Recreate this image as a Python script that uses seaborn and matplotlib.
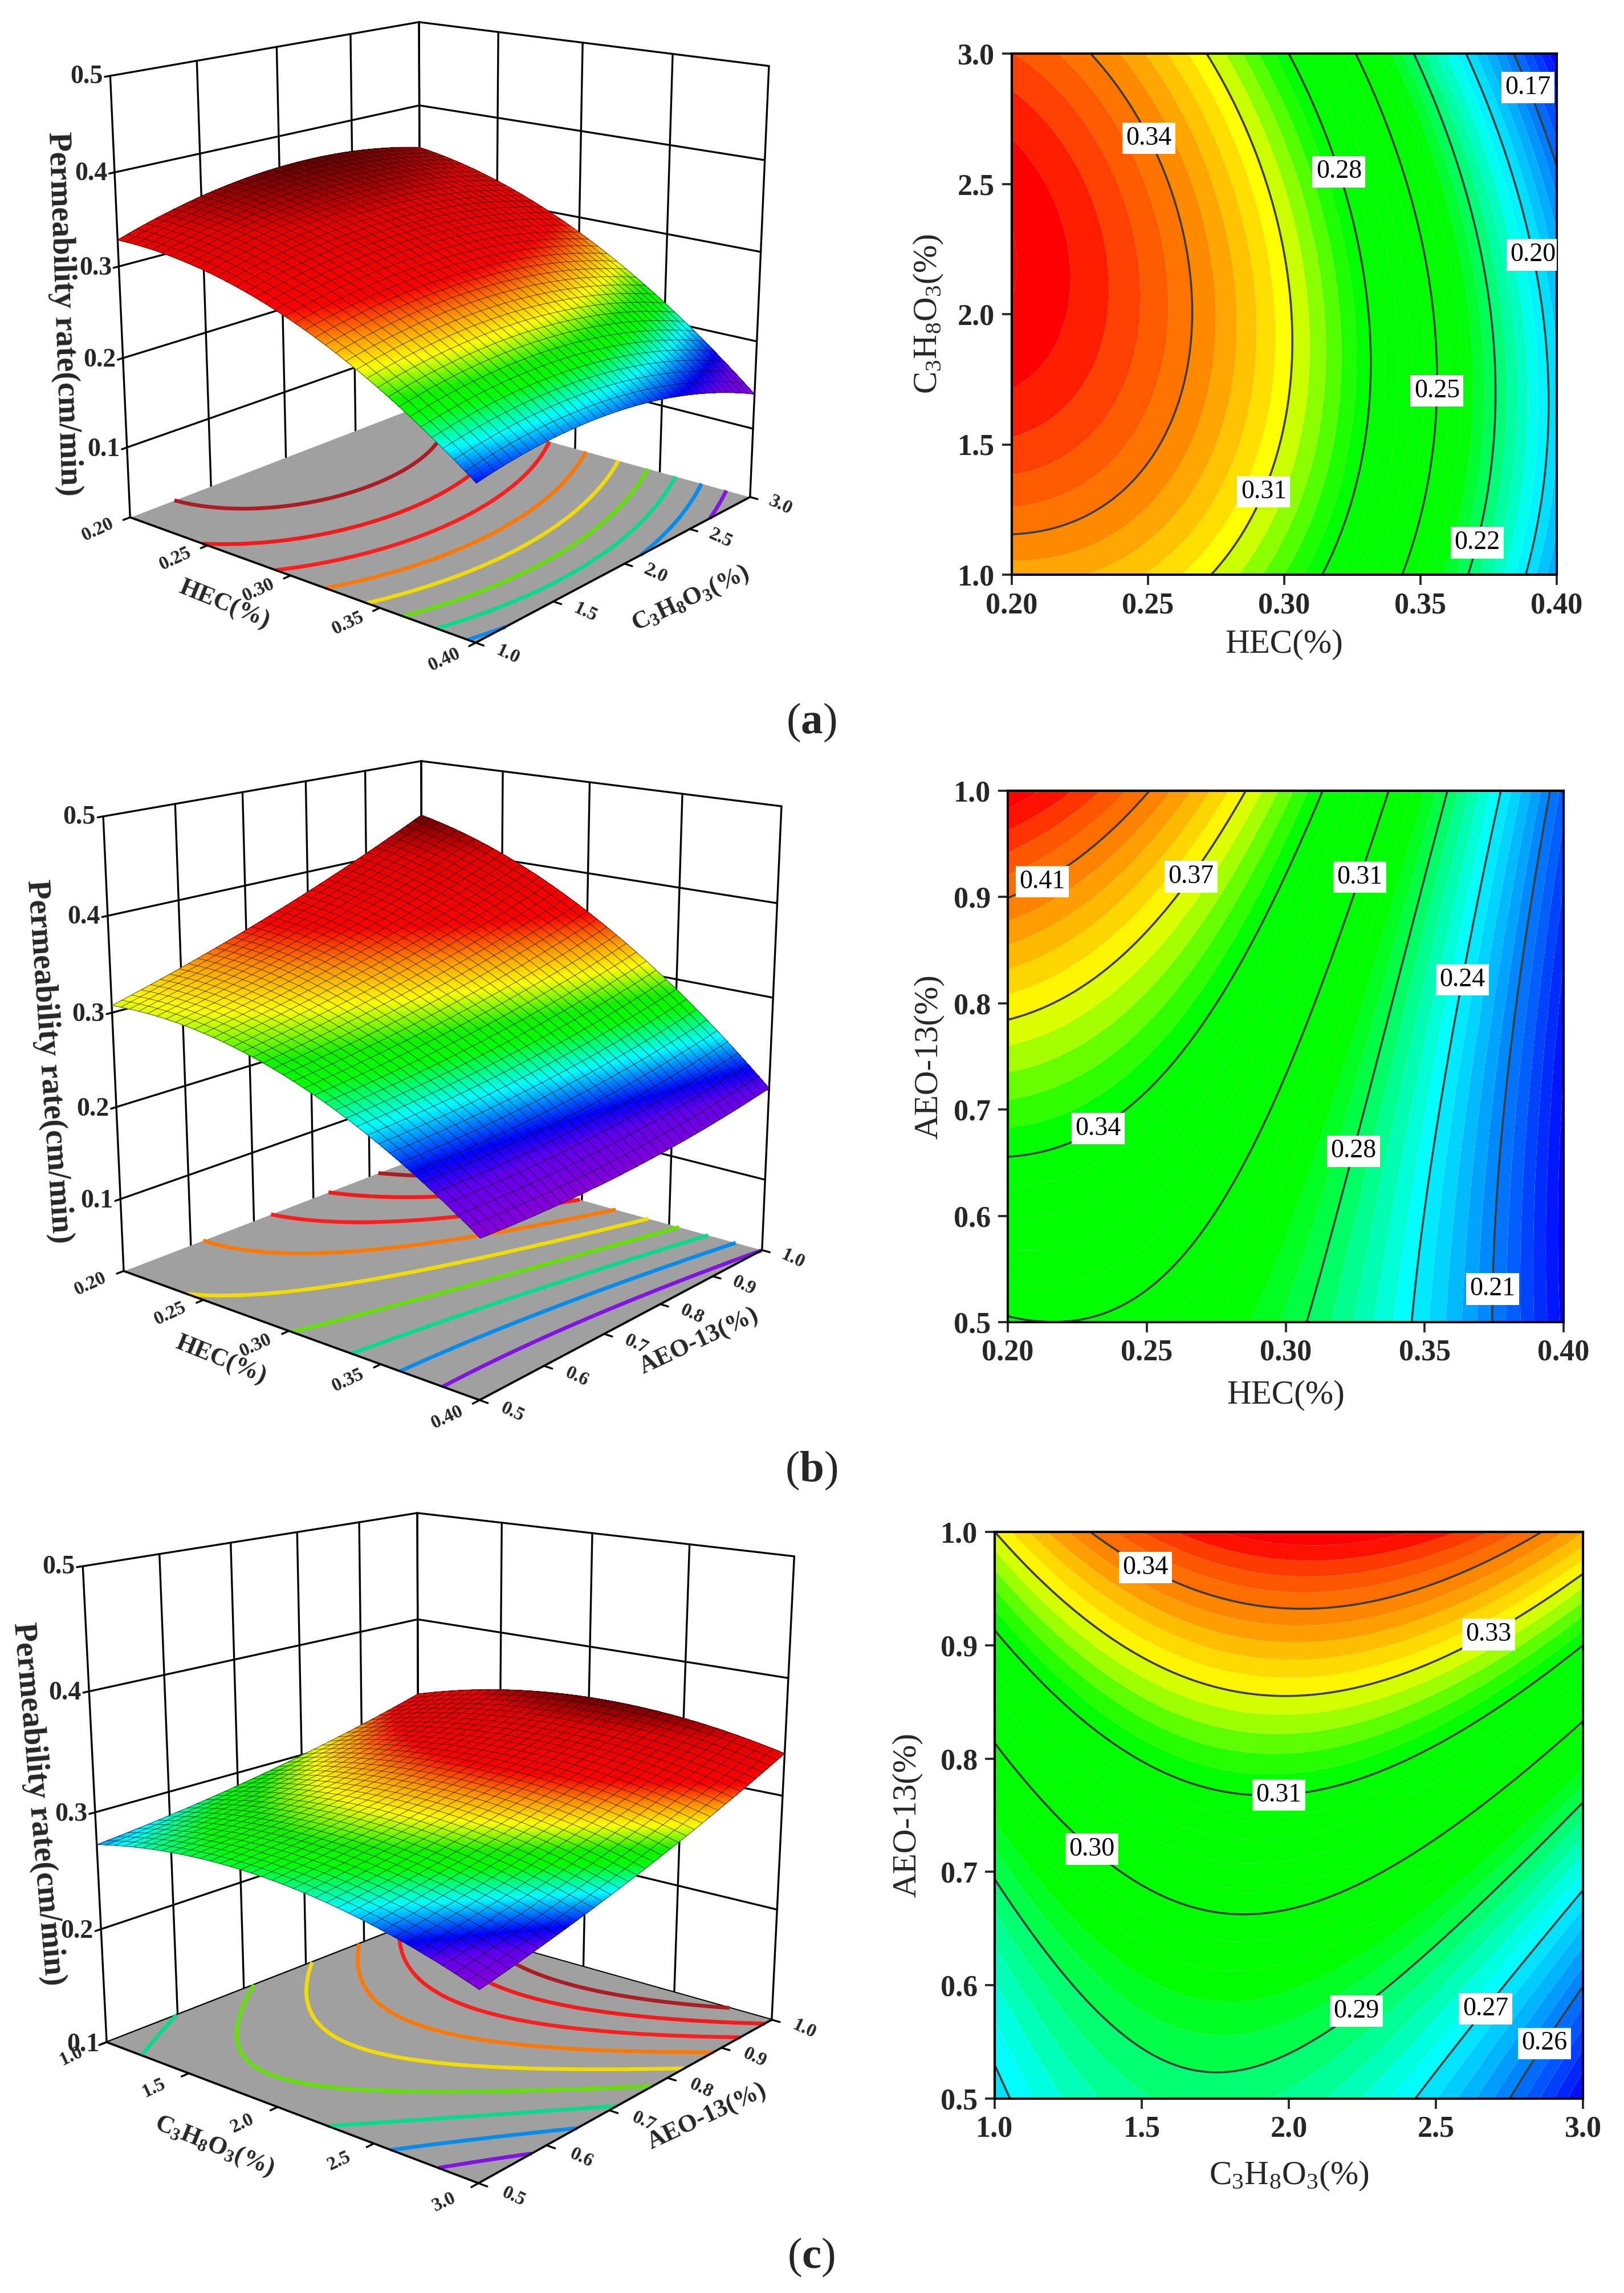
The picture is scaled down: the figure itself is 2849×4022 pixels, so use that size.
import numpy as np
import matplotlib
matplotlib.use('Agg')
import matplotlib.pyplot as plt
from matplotlib.colors import LinearSegmentedColormap
from mpl_toolkits.mplot3d import proj3d
import seaborn as sns

sns.set_theme(style='ticks')
plt.rcParams['font.family'] = ['Liberation Serif', 'DejaVu Serif']
plt.rcParams['mathtext.fontset'] = 'custom'
plt.rcParams['mathtext.rm'] = 'Liberation Serif'
plt.rcParams['mathtext.it'] = 'Liberation Serif:italic'
plt.rcParams['mathtext.bf'] = 'Liberation Serif:bold'
plt.rcParams['axes.edgecolor'] = 'black'

W, H = 2849, 4022

# factor levels
hec = [0.20, 0.25, 0.30, 0.35, 0.40]
glycerol = [1.0, 1.5, 2.0, 2.5, 3.0]
aeo = [0.5, 0.625, 0.75, 0.875, 1.0]

# permeability rate (cm/min) at the factor levels; rows follow the vertical factor
rate_hec_glycerol = [
    [0.3280, 0.3205, 0.2915, 0.2448, 0.1793],
    [0.3532, 0.3397, 0.3080, 0.2578, 0.1907],
    [0.3650, 0.3470, 0.3120, 0.2580, 0.1880],
    [0.3634, 0.3425, 0.3035, 0.2454, 0.1712],
    [0.3484, 0.3261, 0.2824, 0.2200, 0.1402],
]
rate_hec_aeo = [
    [0.3075, 0.3040, 0.2810, 0.2390, 0.1766],
    [0.3345, 0.3226, 0.2941, 0.2460, 0.1749],
    [0.3652, 0.3460, 0.3110, 0.2568, 0.1785],
    [0.3995, 0.3741, 0.3320, 0.2713, 0.1874],
    [0.4374, 0.4068, 0.3568, 0.2897, 0.2015],
]
rate_glycerol_aeo = [
    [0.2723, 0.2847, 0.2840, 0.2716, 0.2474],
    [0.2820, 0.2956, 0.2970, 0.2875, 0.2648],
    [0.2943, 0.3079, 0.3120, 0.3044, 0.2855],
    [0.3092, 0.3238, 0.3316, 0.3264, 0.3096],
    [0.3281, 0.3475, 0.3552, 0.3499, 0.3366],
]

# labelled contour levels
contours_a = [0.1675, 0.1958, 0.2242, 0.2525, 0.2808, 0.3092, 0.3375]
contours_b = [0.2110, 0.2435, 0.2760, 0.3085, 0.3410, 0.3735, 0.4060]
contours_c = [0.2611, 0.2745, 0.2879, 0.3013, 0.3147, 0.3281, 0.3415]

# anchor points of the contour labels
label_pts_a = [(0.2505, 2.676), (0.2925, 1.318), (0.3193, 2.544), (0.3549, 1.706),
               (0.3705, 1.123), (0.3896, 2.224), (0.3890, 2.868)]
label_pts_b = [(0.2130, 0.9116), (0.2662, 0.9185), (0.2324, 0.6828), (0.3269, 0.9185),
               (0.3247, 0.6606), (0.3646, 0.8216), (0.3755, 0.5310)]
label_pts_c = [(1.514, 0.969), (2.678, 0.9096), (1.967, 0.7659), (1.320, 0.7166),
               (2.225, 0.5788), (2.667, 0.5796), (2.872, 0.5482)]

HEC_LABEL = 'HEC(%)'
GLY_LABEL = r'C$_3$H$_8$O$_3$(%)'
AEO_LABEL = 'AEO-13(%)'
GLY_BOLD = r'$\mathbf{C_3H_8O_3(\%)}$'
Z_LABEL = 'Permeability rate(cm/min)'


def rgb(*c):
    return tuple(v / 255 for v in c)


fill_cmap = LinearSegmentedColormap.from_list('fill', [
    (0.00, rgb(0, 0, 255)), (0.27, rgb(0, 255, 255)), (0.44, rgb(0, 255, 0)),
    (0.65, rgb(0, 255, 0)), (0.76, rgb(255, 255, 0)), (0.85, rgb(255, 150, 0)),
    (0.93, rgb(255, 75, 0)), (0.98, rgb(255, 0, 0)), (1.00, rgb(255, 0, 0))])

surface_cmap = LinearSegmentedColormap.from_list('surface', [
    (0.00, rgb(135, 0, 215)), (0.11, rgb(95, 0, 235)), (0.17, rgb(0, 0, 255)),
    (0.22, rgb(0, 110, 255)), (0.28, rgb(0, 255, 255)), (0.33, rgb(0, 255, 130)),
    (0.38, rgb(0, 255, 0)), (0.43, rgb(20, 240, 0)),
    (0.52, rgb(255, 255, 0)), (0.60, rgb(255, 150, 0)), (0.69, rgb(255, 0, 0)),
    (0.88, rgb(225, 0, 0)), (1.00, rgb(105, 0, 0))])

floor_palette = sns.color_palette([
    rgb(130, 20, 225), rgb(0, 140, 235), rgb(0, 220, 140), rgb(100, 225, 0), rgb(240, 220, 0),
    rgb(255, 120, 0), rgb(255, 30, 30), rgb(245, 25, 25), rgb(170, 30, 35)])


def response_mesh(xs, ys, table, n):
    """Second-order response surface through the tabulated rates."""
    xs, ys, table = np.asarray(xs), np.asarray(ys), np.asarray(table)
    u = (xs - xs.mean()) / np.ptp(xs)
    v = (ys - ys.mean()) / np.ptp(ys)
    Vu, Vv = np.vander(u, 3), np.vander(v, 3)
    A = np.kron(Vv, Vu)
    coef, *_ = np.linalg.lstsq(A, table.ravel(), rcond=None)
    xm = np.linspace(xs[0], xs[-1], n)
    ym = np.linspace(ys[0], ys[-1], n)
    um = (xm - xs.mean()) / np.ptp(xs)
    vm = (ym - ys.mean()) / np.ptp(ys)
    Z = (np.vander(vm, 3) @ coef.reshape(3, 3) @ np.vander(um, 3).T)
    X, Y = np.meshgrid(xm, ym)
    return X, Y, Z


def add_px_axes(fig, L, T, R, B, **kw):
    return fig.add_axes([L / W, 1 - B / H, (R - L) / W, (B - T) / H], **kw)


def px_text(fig, x, y, s, **kw):
    fig.text(x / W, 1 - y / H, s, ha='center', va='center', rotation_mode='anchor', **kw)


def tick_text(ax, x, y, z, s, **kw):
    """Place a flat label at the projected position of a 3D point."""
    a, b, _ = proj3d.proj_transform(x, y, z, ax.get_proj())
    ax.text2D(a, b, s, transform=ax.transData, fontweight='bold', zorder=8, **kw)


def surface_panel(fig, box, view, xs, ys, table, floor, xticks, yticks, xfmt, yfmt,
                  xlabel, ylabel, label_pos):
    L, T, R, B = box
    elev, azim, focal = view
    ax = add_px_axes(fig, L, T, R, B, projection='3d', computed_zorder=False)
    ax.patch.set_visible(False)
    ax.view_init(elev=elev, azim=azim)
    ax.set_proj_type('persp', focal_length=focal)
    ax.set_box_aspect((1, 1, 1))
    x0, x1, y0, y1 = xs[0], xs[-1], ys[0], ys[-1]
    ztop = 0.5
    ax.set_xlim(x0, x1)
    ax.set_ylim(y0, y1)
    ax.set_zlim(floor, ztop)
    ax.set_axis_off()
    rx, ry = x1 - x0, y1 - y0

    X, Y, Z = response_mesh(xs, ys, table, 145)
    zmin, zmax = Z.min(), Z.max()

    wall = dict(color='black', lw=0.8, zorder=1)
    zticks = [v for v in (0.1, 0.2, 0.3, 0.4, 0.5) if v >= floor]
    for z in zticks:
        ax.plot([x0, x0], [y0 - 0.015 * ry, y1], [z, z], **wall)
        ax.plot([x0, x1], [y1, y1], [z, z], **wall)
        tick_text(ax, x0, y0 - 0.02 * ry, z, f'{z:.1f}', ha='right', va='center', fontsize=11)
    for v in xticks:
        ax.plot([v, v], [y1, y1], [floor, ztop], **wall)
    for v in yticks:
        ax.plot([x0, x0], [v, v], [floor, ztop], **wall)

    # grey base with the projected contour lines
    fx, fy = np.meshgrid([x0, x1], [y0, y1])
    ax.plot_surface(fx, fy, np.full_like(fx, floor), color='#A0A0A0', shade=False,
                    linewidth=0, zorder=2)
    steps = zmin + (zmax - zmin) * np.arange(1, 10) / 10
    ax.contour(X, Y, Z, levels=steps, zdir='z', offset=floor, colors=list(floor_palette),
               linewidths=1.6, zorder=3)
    edge = dict(color='black', lw=0.9, zorder=4)
    ax.plot([x0, x1], [y0, y0], [floor, floor], **edge)
    ax.plot([x1, x1], [y0, y1], [floor, floor], **edge)

    for v in xticks:
        ax.plot([v, v], [y0 - 0.02 * ry, y0], [floor, floor], color='black', lw=0.8, zorder=4)
        tick_text(ax, v, y0 - 0.095 * ry, floor, format(v, xfmt), ha='center', va='center',
                  rotation=25, fontsize=8)
    for v in yticks:
        ax.plot([x1, x1 + 0.02 * rx], [v, v], [floor, floor], color='black', lw=0.8, zorder=4)
        tick_text(ax, x1 + 0.08 * rx, v, floor, format(v, yfmt), ha='center', va='center',
                  rotation=-25, fontsize=8)

    colors = surface_cmap((Z - zmin) / (zmax - zmin))
    ax.plot_surface(X, Y, Z, facecolors=colors, rstride=1, cstride=1, shade=False,
                    linewidth=0, antialiased=False, zorder=5)
    ax.plot_wireframe(X, Y, Z, rstride=4, cstride=4, color=(0.05, 0.05, 0.05, 0.55),
                      linewidth=0.3, zorder=6)

    zpos, xpos, ypos = label_pos
    px_text(fig, *zpos[:2], Z_LABEL, rotation=zpos[2], fontsize=13.5, fontweight='bold')
    px_text(fig, *xpos, xlabel, rotation=-22, fontsize=10.5, fontweight='bold')
    px_text(fig, *ypos, ylabel, rotation=25, fontsize=10.5, fontweight='bold')
    return ax


def contour_panel(fig, box, xs, ys, table, contours, label_pts, xticks, yticks, xfmt, yfmt,
                  xlabel, ylabel, xlab_y, ylab_x):
    L, T, R, B = box
    ax = add_px_axes(fig, L, T, R, B)
    X, Y, Z = response_mesh(xs, ys, table, 300)
    zmin, zmax = Z.min(), Z.max()
    step = (contours[1] - contours[0]) / 5
    edges = np.arange(contours[0] - 8 * step * 5, zmax + step, step)
    centers = (edges[:-1] + edges[1:]) / 2
    band_colors = fill_cmap(np.clip((centers - zmin) / (zmax - zmin), 0, 1))
    ax.contourf(X, Y, Z, levels=edges, colors=band_colors, antialiased=True)
    cs = ax.contour(X, Y, Z, levels=contours, colors=[rgb(60, 60, 60)], linewidths=0.85)
    texts = ax.clabel(cs, fmt='%.2f', manual=label_pts, inline=False, fontsize=11, colors='black')
    for t in texts:
        t.set_rotation(0)
        t.set_bbox(dict(facecolor='white', edgecolor='none', pad=1.5))
        t.set_zorder(10)
    ax.set_xlim(xs[0], xs[-1])
    ax.set_ylim(ys[0], ys[-1])
    ax.set_xticks(xticks)
    ax.set_yticks(yticks)
    ax.set_xticklabels([format(v, xfmt) for v in xticks])
    ax.set_yticklabels([format(v, yfmt) for v in yticks])
    ax.tick_params(direction='out', length=4.2, width=0.9, labelsize=12.5, pad=3,
                   bottom=True, left=True, top=False, right=False)
    for t in ax.get_xticklabels() + ax.get_yticklabels():
        t.set_fontweight('bold')
    sns.despine(ax=ax, top=False, right=False)
    for s in ax.spines.values():
        s.set_linewidth(1.0)
    ax.set_xlabel(xlabel, fontsize=14.2, va='center')
    ax.set_ylabel(ylabel, fontsize=14.2, va='center')
    ax.xaxis.set_label_coords(0.5, -xlab_y / (B - T))
    ax.yaxis.set_label_coords(-ylab_x / (R - L), 0.5)
    return ax


fig = plt.figure(figsize=(W / 300, H / 300), dpi=300, facecolor='white')

# (a) HEC and glycerol
surface_panel(fig, (92.3, -132.1, 1429.4, 1205.1), (16, -50, 0.5), hec, glycerol, rate_hec_glycerol, 0.02,
              hec, glycerol, '.2f', '.1f', HEC_LABEL, GLY_BOLD,
              ((111, 551, -88), (393, 1061), (1212, 1050)))
contour_panel(fig, (1775, 94, 2731, 1008), hec, glycerol, rate_hec_glycerol, contours_a, label_pts_a,
              hec, glycerol, '.2f', '.1f', HEC_LABEL, GLY_LABEL, 122, 146)

# (b) HEC and AEO-13
aeo_ticks = [0.5, 0.6, 0.7, 0.8, 0.9, 1.0]
surface_panel(fig, (77.0, 1159.0, 1453.8, 2535.9), (16, -50, 0.5), hec, aeo, rate_hec_aeo, 0.02,
              hec, aeo_ticks, '.2f', '.1f', HEC_LABEL, AEO_LABEL,
              ((85, 1862, -86), (387, 2386), (1226, 2353)))
contour_panel(fig, (1768, 1387, 2743, 2319), hec, aeo, rate_hec_aeo, contours_b, label_pts_b,
              hec, aeo_ticks, '.2f', '.1f', HEC_LABEL, AEO_LABEL, 128, 138)

# (c) glycerol and AEO-13
surface_panel(fig, (39.6, 2464.0, 1478.8, 3903.1), (16, -50, 0.45), glycerol, aeo, rate_glycerol_aeo, 0.1,
              glycerol, aeo_ticks, '.1f', '.1f', GLY_BOLD, AEO_LABEL,
              ((67, 3164, -85), (376, 3764), (1240, 3713)))
contour_panel(fig, (1745, 2687, 2777, 3681), glycerol, aeo, rate_glycerol_aeo, contours_c, label_pts_c,
              glycerol, aeo_ticks, '.1f', '.1f', GLY_LABEL, AEO_LABEL, 136, 153)

for letter, ypx in zip('abc', (1267, 2579, 3959)):
    px_text(fig, 1423, ypx, rf'($\mathbf{{{letter}}}$)', fontsize=18.5)

fig.savefig('out.png', dpi=300, facecolor='white')
